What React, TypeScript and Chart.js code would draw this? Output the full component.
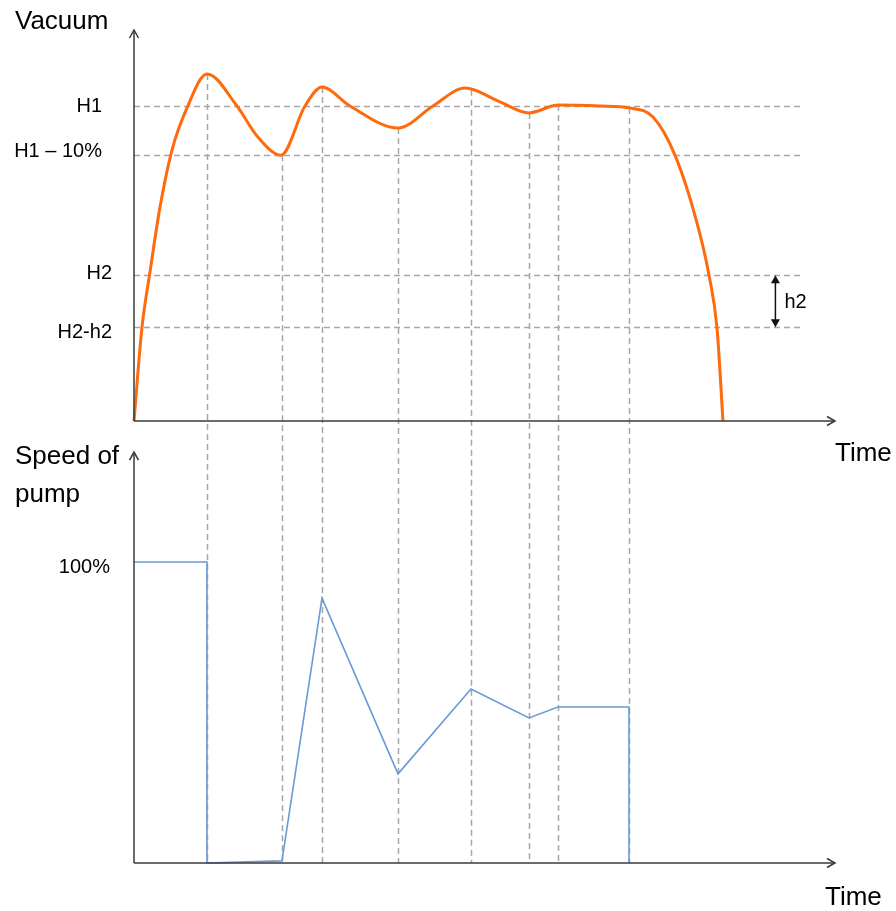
import React, { useEffect, useRef } from "react";
import { Chart, registerables } from "chart.js";

Chart.register(...registerables);

// ---- data (time in arbitrary units 0..100, vacuum units where H1 = 100, speed in %) ----
const vacuumTimes = [0, 1.14, 2.28, 3.71, 5.42, 7.56, 10.41, 14.69, 17.55, 20.97, 24.39, 26.82, 30.81, 37.66, 42.65, 47.22, 52.21, 56.35, 60.49, 66.48, 70.61, 74.04, 77.17, 80.31, 82.03, 83.17, 84.02];
const vacuumValues = [0, 29.8, 47.3, 67.9, 86.0, 99.4, 110.2, 100, 90.5, 84.4, 100, 106.0, 100, 93.0, 100, 105.7, 101.3, 97.8, 100.3, 100, 99.4, 96.5, 84.4, 62.9, 46.3, 29.5, 0];

const speedTimes = [0, 10.41, 10.41, 21.11, 26.82, 37.66, 48.07, 56.35, 60.49, 70.61, 70.61];
const speedValues = [100, 100, 0, 0.7, 88.0, 29.6, 57.8, 48.2, 51.8, 51.8, 0];

const eventTimes = [10.41, 21.11, 26.82, 37.66, 48.07, 56.35, 60.49, 70.61];
const eventVacuum = [110.2, 84.4, 106.0, 93.0, 105.2, 97.8, 100.3, 99.4];

const vacuumTickLabels = ["H1", "H1 \u2013 10%", "H2", "H2-h2"];
const vacuumTickValues = [100, 84.4, 46.3, 29.8];
const speedTickLabels = ["100%"];
const speedTickValues = [100];

const guideEndTime = 95.4;
const h2ArrowTime = 91.5;

// axis ranges
const X_MIN = 0, X_MAX = 100;
const V_MIN = -140.32, V_MAX = 124.13;
const S_MIN = 0, S_MAX = 276.7;
const SPEED_AXIS_TOP = 136.5;

const FONT = "'Liberation Sans', Arial, Helvetica, sans-serif";

const drawPlugin = {
  id: "diagram",
  beforeDatasetsDraw(chart: any) {
    const { ctx, scales } = chart;
    const x = scales.x, yV = scales.yV, yS = scales.yS;
    ctx.save();
    ctx.strokeStyle = "#a6a6a6";
    ctx.lineWidth = 1.5;
    ctx.setLineDash([6, 4]);
    // horizontal guides
    vacuumTickValues.forEach((v) => {
      const py = Math.round(yV.getPixelForValue(v)) + 0.5;
      ctx.beginPath();
      ctx.moveTo(x.getPixelForValue(0), py);
      ctx.lineTo(x.getPixelForValue(guideEndTime), py);
      ctx.stroke();
    });
    // vertical guides
    eventTimes.forEach((t, i) => {
      const px = Math.round(x.getPixelForValue(t)) + 0.5;
      ctx.beginPath();
      ctx.moveTo(px, yV.getPixelForValue(eventVacuum[i]));
      ctx.lineTo(px, yS.getPixelForValue(0));
      ctx.stroke();
    });
    ctx.restore();
  },
  afterDatasetsDraw(chart: any) {
    const { ctx, scales } = chart;
    const x = scales.x, yV = scales.yV, yS = scales.yS;
    ctx.save();
    ctx.setLineDash([]);
    ctx.strokeStyle = "#3a3a3a";
    ctx.lineWidth = 1.5;
    const x0 = x.getPixelForValue(0);
    const xEnd = x.getPixelForValue(X_MAX);
    const vZero = yV.getPixelForValue(0);
    const vTop = yV.getPixelForValue(V_MAX);
    const sZero = yS.getPixelForValue(0);
    const sTop = yS.getPixelForValue(SPEED_AXIS_TOP);

    const line = (a: number, b: number, c: number, d: number) => {
      ctx.beginPath();
      ctx.moveTo(a, b);
      ctx.lineTo(c, d);
      ctx.stroke();
    };
    const chevUp = (px: number, py: number) => {
      ctx.beginPath();
      ctx.moveTo(px - 4.5, py + 8);
      ctx.lineTo(px, py);
      ctx.lineTo(px + 4.5, py + 8);
      ctx.stroke();
    };
    const chevRight = (px: number, py: number) => {
      ctx.beginPath();
      ctx.moveTo(px - 8, py - 4.5);
      ctx.lineTo(px, py);
      ctx.lineTo(px - 8, py + 4.5);
      ctx.stroke();
    };
    // top axes
    line(x0, vZero, x0, vTop);
    chevUp(x0, vTop);
    line(x0, vZero, xEnd, vZero);
    chevRight(xEnd, vZero);
    // bottom axes
    line(x0, sZero, x0, sTop);
    chevUp(x0, sTop);
    line(x0, sZero, xEnd, sZero);
    chevRight(xEnd, sZero);

    // h2 double arrow
    const ax = x.getPixelForValue(h2ArrowTime);
    const aTop = yV.getPixelForValue(vacuumTickValues[2]);
    const aBot = yV.getPixelForValue(vacuumTickValues[3]);
    ctx.strokeStyle = "#111";
    ctx.fillStyle = "#111";
    ctx.lineWidth = 1.5;
    line(ax, aTop + 6, ax, aBot - 6);
    ctx.beginPath();
    ctx.moveTo(ax, aTop);
    ctx.lineTo(ax - 4.5, aTop + 8);
    ctx.lineTo(ax + 4.5, aTop + 8);
    ctx.closePath();
    ctx.fill();
    ctx.beginPath();
    ctx.moveTo(ax, aBot);
    ctx.lineTo(ax - 4.5, aBot - 8);
    ctx.lineTo(ax + 4.5, aBot - 8);
    ctx.closePath();
    ctx.fill();

    // texts
    ctx.fillStyle = "#000";
    ctx.textBaseline = "middle";
    ctx.font = `20px ${FONT}`;
    ctx.textAlign = "left";
    ctx.fillText("h2", ax + 9, (aTop + aBot) / 2 + 1);

    const tickRight = [102, 102, 112, 112];
    const tickDy = [0, -4, -1.5, 5];
    ctx.textAlign = "right";
    vacuumTickLabels.forEach((lab, i) => {
      ctx.fillText(lab, tickRight[i], yV.getPixelForValue(vacuumTickValues[i]) + tickDy[i]);
    });
    speedTickLabels.forEach((lab, i) => {
      ctx.fillText(lab, 110, yS.getPixelForValue(speedTickValues[i]) + 5.5);
    });

    ctx.font = `26px ${FONT}`;
    ctx.textBaseline = "alphabetic";
    ctx.textAlign = "left";
    ctx.fillText("Vacuum", 15, 29);
    ctx.fillText("Speed of", 15, 464);
    ctx.fillText("pump", 15, 502);
    ctx.fillText("Time", 835, 461);
    ctx.fillText("Time", 825, 905);
    ctx.restore();
  },
};

export default function App() {
  const ref = useRef<HTMLCanvasElement | null>(null);
  useEffect(() => {
    if (!ref.current) return;
    const chart = new Chart(ref.current, {
      type: "line",
      data: {
        datasets: [
          {
            label: "Vacuum",
            data: vacuumTimes.map((t, i) => ({ x: t, y: vacuumValues[i] })),
            xAxisID: "x",
            yAxisID: "yV",
            borderColor: "#ff6a0d",
            borderWidth: 3,
            pointRadius: 0,
            cubicInterpolationMode: "monotone",
            fill: false,
            clip: false as any,
          },
          {
            label: "Speed of pump",
            data: speedTimes.map((t, i) => ({ x: t, y: speedValues[i] })),
            xAxisID: "x",
            yAxisID: "yS",
            borderColor: "#6b9ad6",
            borderWidth: 1.6,
            pointRadius: 0,
            tension: 0,
            fill: false,
            clip: false as any,
          },
        ],
      },
      options: {
        animation: false,
        responsive: false,
        layout: { padding: { left: 134, right: 61, top: 30, bottom: 48 } },
        plugins: { legend: { display: false }, tooltip: { enabled: false } },
        scales: {
          x: { type: "linear", min: X_MIN, max: X_MAX, display: false },
          yV: { type: "linear", min: V_MIN, max: V_MAX, display: false },
          yS: { type: "linear", min: S_MIN, max: S_MAX, display: false },
        },
      },
      plugins: [drawPlugin],
    });
    return () => chart.destroy();
  }, []);
  return (
    <div style={{ position: "absolute", left: 0, top: 0, width: 896, height: 911, background: "#fff" }}>
      <canvas ref={ref} width={896} height={911} />
    </div>
  );
}
